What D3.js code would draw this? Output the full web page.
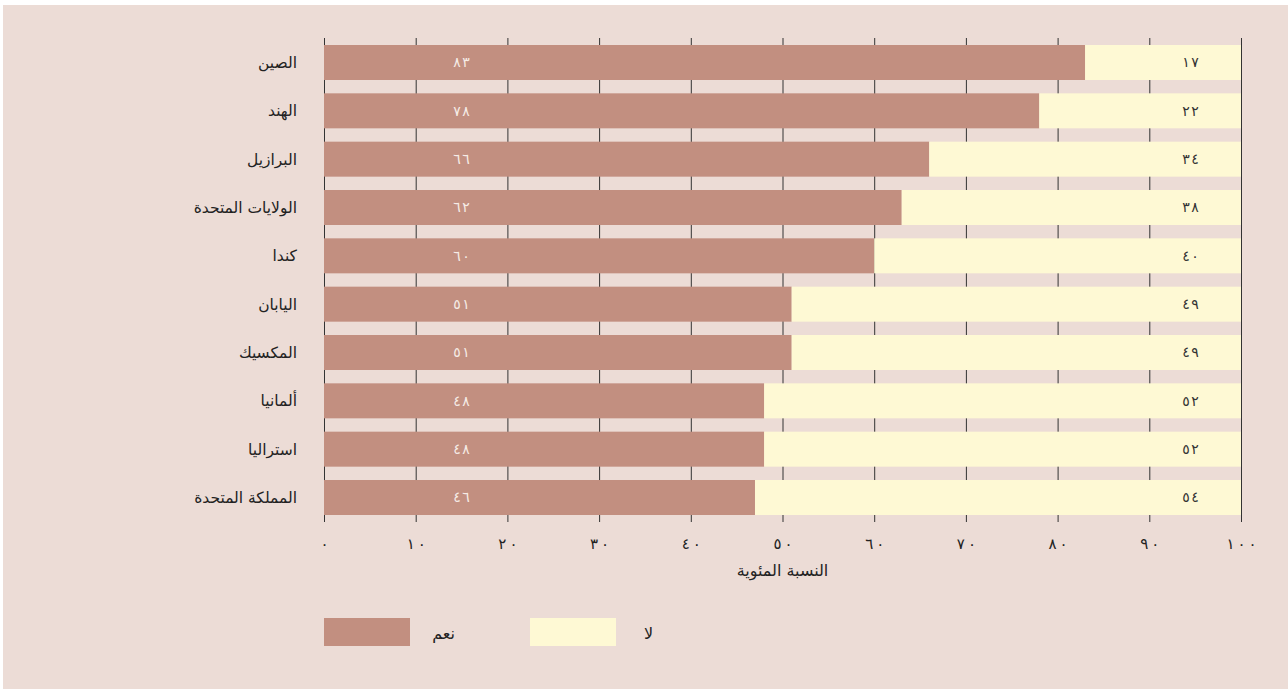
<!DOCTYPE html>
<html>
<head>
<meta charset="utf-8">
<script src="https://cdn.jsdelivr.net/npm/d3@7"></script>
<style>
  body { margin: 0; background: #fff; }
  text { font-family: "DejaVu Sans", "Noto Sans", sans-serif; }
  .num { direction: ltr; unicode-bidi: bidi-override; }
</style>
</head>
<body>
<div id="chart"></div>
<script>
// data
const countries = ["الصين", "الهند", "البرازيل", "الولايات المتحدة", "كندا", "اليابان", "المكسيك", "ألمانيا", "استراليا", "المملكة المتحدة"];
// bar lengths as drawn (share answering yes)
const yesValues = [83, 78, 66, 63, 60, 51, 51, 48, 48, 47];
// printed labels
const yesLabels = [83, 78, 66, 62, 60, 51, 51, 48, 48, 46];
const noLabels = [17, 22, 34, 38, 40, 49, 49, 52, 52, 54];
const xTicks = [0, 10, 20, 30, 40, 50, 60, 70, 80, 90, 100];
const axisTitle = "النسبة المئوية";
const legendLabels = ["نعم", "لا"];

const W = 1288, H = 689;
const yesColor = "#c28f80", noColor = "#fef9d4";

// arabic-indic digits, spaced out a little like the original
const digits = "٠١٢٣٤٥٦٧٨٩";
function ar(n, sep) {
  return String(n).split("").map(d => digits[+d]).join(sep || "");
}

const svg = d3.select("#chart").append("svg")
    .attr("width", W)
    .attr("height", H);

svg.append("rect")
    .attr("x", 3).attr("y", 5)
    .attr("width", W - 3).attr("height", H - 5)
    .attr("fill", "#ecdcd6");

const x = d3.scaleLinear().domain([0, 100]).range([324, 1241]);
const y = d3.scaleBand()
    .domain(countries)
    .range([38.33, 521.67])
    .paddingInner(0.276)
    .paddingOuter(0.138);

// grid + ticks
const axis = svg.append("g")
    .attr("transform", "translate(0,522)")
    .call(d3.axisBottom(x).tickValues(xTicks).tickSize(-484).tickPadding(16).tickFormat(d => ar(d, "\u2009")));
axis.select(".domain").remove();
axis.selectAll(".tick line").attr("stroke", "#333");
axis.selectAll(".tick text")
    .attr("class", "num")
    .attr("font-size", 15)
    .attr("fill", "#222")
    .style("font-family", "DejaVu Sans");

// bars
const rows = countries.map((c, i) => ({c: c, yes: yesValues[i], yl: yesLabels[i], nl: noLabels[i]}));

svg.append("g").selectAll("rect")
    .data(rows)
    .join("rect")
    .attr("x", x(0))
    .attr("y", d => y(d.c))
    .attr("width", d => x(d.yes) - x(0))
    .attr("height", y.bandwidth())
    .attr("fill", yesColor);

svg.append("g").selectAll("rect")
    .data(rows)
    .join("rect")
    .attr("x", d => x(d.yes))
    .attr("y", d => y(d.c))
    .attr("width", d => x(100) - x(d.yes))
    .attr("height", y.bandwidth())
    .attr("fill", noColor);

// value labels
svg.append("g").selectAll("text")
    .data(rows)
    .join("text")
    .attr("class", "num")
    .attr("x", x(15))
    .attr("y", d => y(d.c) + y.bandwidth() / 2)
    .attr("dy", "0.35em")
    .attr("text-anchor", "middle")
    .attr("font-size", 14)
    .attr("fill", "#f6ece6")
    .text(d => ar(d.yl, "\u200A"));

svg.append("g").selectAll("text")
    .data(rows)
    .join("text")
    .attr("class", "num")
    .attr("x", x(94.5))
    .attr("y", d => y(d.c) + y.bandwidth() / 2)
    .attr("dy", "0.35em")
    .attr("text-anchor", "middle")
    .attr("font-size", 14)
    .attr("fill", "#333")
    .text(d => ar(d.nl, "\u200A"));

// category labels
svg.append("g").selectAll("text")
    .data(countries)
    .join("text")
    .attr("x", 297)
    .attr("y", d => y(d) + y.bandwidth() / 2)
    .attr("dy", "0.35em")
    .attr("text-anchor", "end")
    .attr("font-size", 15.5)
    .attr("fill", "#222")
    .text(d => d);

// axis title
svg.append("text")
    .attr("x", (x(0) + x(100)) / 2)
    .attr("y", 576)
    .attr("text-anchor", "middle")
    .attr("font-size", 16)
    .attr("fill", "#222")
    .text(axisTitle);

// legend
const legend = [{label: legendLabels[0], color: yesColor, x: 324}, {label: legendLabels[1], color: noColor, x: 530}];
const lg = svg.append("g").selectAll("g")
    .data(legend)
    .join("g")
    .attr("transform", d => "translate(" + d.x + ",618)");
lg.append("rect")
    .attr("width", 86)
    .attr("height", 28)
    .attr("fill", d => d.color);
lg.append("text")
    .attr("x", (d, i) => i == 0 ? 131 : 123)
    .attr("y", 15)
    .attr("dy", "0.35em")
    .attr("text-anchor", "end")
    .attr("font-size", 16)
    .attr("fill", "#222")
    .text(d => d.label);
</script>
</body>
</html>
